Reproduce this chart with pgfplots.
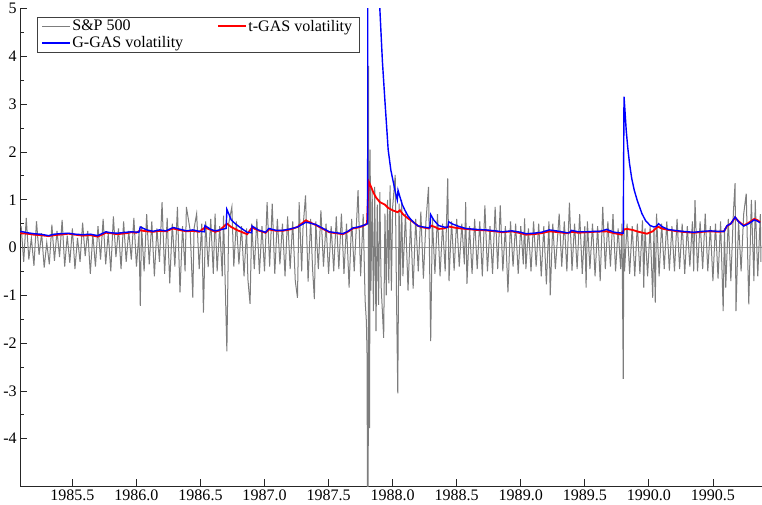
\documentclass[border=0pt]{standalone}
\usepackage{fontspec}
\setmainfont{Liberation Serif}
\usepackage{pgfplots}
\pgfplotsset{compat=1.18}
\definecolor{spgrey}{RGB}{125,125,125}
\begin{document}
\begin{tikzpicture}
\begin{axis}[
  scale only axis, width=737bp, height=475bp,
  xmin=1985.093, xmax=1990.88, ymin=-5, ymax=5,
  axis x line*=bottom, axis y line*=left,
  axis line style={black!85, line width=0.8bp, -},
  xtick={1985.5,1986,...,1990.5}, minor x tick num=4,
  ytick={-4,...,5}, minor y tick num=1,
  tick align=inside,
  major tick length=7bp, minor tick length=4bp,
  tick style={black!85, line width=0.8bp},
  xticklabel style={/pgf/number format/.cd, fixed, fixed zerofill, precision=1, 1000 sep={}},
  /pgf/number format/assume math mode=true,
  tick label style={font=\fontsize{16}{19}\selectfont},
  extra y ticks={0}, extra y tick labels={},
  extra y tick style={grid=major, major grid style={gray!80, line width=0.8bp}},
  legend style={at={(0.022,0.983)}, anchor=north west, draw=black!75,
    font=\fontsize{16}{19}\selectfont, legend columns=2,
    /tikz/every even column/.append style={column sep=32bp},
    inner xsep=5bp, inner ysep=1bp},
  legend cell align=left,
  legend image code/.code={\draw[#1] (0bp,0bp) -- (27bp,0bp);},
]
% S&P 500 returns (scaled)
\addplot[spgrey, line width=1.0bp] coordinates {
(1985.10,0.45)(1985.12,-0.30)(1985.14,0.62)(1985.16,-0.25)(1985.18,0.20)(1985.20,-0.38)(1985.22,0.55)(1985.24,-0.15)(1985.26,0.30)(1985.28,-0.42)(1985.30,0.10)(1985.32,-0.35)(1985.34,0.48)(1985.36,-0.28)(1985.38,0.35)(1985.40,-0.20)(1985.42,0.58)(1985.44,-0.40)(1985.46,0.25)(1985.48,-0.32)(1985.50,0.40)
(1985.52,-0.45)(1985.54,0.20)(1985.56,-0.30)(1985.58,0.52)(1985.60,-0.18)(1985.62,0.35)(1985.64,-0.55)(1985.66,0.28)(1985.68,-0.40)(1985.70,0.45)(1985.72,-0.25)(1985.74,0.60)(1985.76,-0.35)(1985.78,0.30)(1985.80,-0.50)(1985.82,0.65)(1985.84,-0.20)(1985.86,0.40)(1985.88,-0.45)(1985.90,0.55)(1985.92,-0.30)(1985.94,0.35)(1985.96,-0.25)(1985.98,0.62)(1986.00,-0.40)(1986.02,0.30)(1986.03,-1.22)(1986.04,0.45)
(1986.06,-0.50)(1986.08,0.70)(1986.10,-0.35)(1986.12,0.55)(1986.14,-0.60)(1986.16,0.40)(1986.18,-0.30)(1986.20,0.95)(1986.22,-0.55)(1986.24,0.62)(1986.26,-0.75)(1986.28,0.50)(1986.30,-0.40)(1986.32,0.85)(1986.34,-0.94)(1986.36,0.45)(1986.38,-0.50)(1986.39,0.85)(1986.42,0.35)(1986.44,-1.05)(1986.45,0.40)(1986.47,0.71)(1986.49,-0.45)(1986.51,0.50)(1986.523,-1.36)(1986.54,0.55)(1986.56,-0.41)(1986.58,0.60)(1986.60,-0.55)(1986.614,0.71)(1986.63,-0.50)(1986.65,0.45)(1986.67,-0.60)(1986.68,0.67)(1986.706,-2.17)(1986.72,0.50)(1986.745,0.85)(1986.76,-0.40)
(1986.78,0.55)(1986.80,-0.35)(1986.82,0.45)(1986.84,-0.60)(1986.86,0.40)(1986.87,-0.66)(1986.887,-1.18)(1986.90,0.50)(1986.92,-0.45)(1986.94,0.60)(1986.96,-0.55)(1986.98,0.45)(1987.00,-0.50)(1987.02,0.95)(1987.04,-0.40)(1987.06,0.92)(1987.08,-0.55)(1987.10,0.60)(1987.12,-0.35)(1987.14,0.50)(1987.16,-0.60)(1987.18,0.65)(1987.20,-0.45)(1987.22,0.55)(1987.24,-0.70)(1987.257,-1.05)(1987.27,0.95)(1987.29,-0.50)(1987.30,0.40)(1987.32,1.09)(1987.34,-0.71)(1987.36,0.60)(1987.375,-0.45)(1987.389,-1.08)(1987.40,0.55)(1987.42,-0.45)(1987.44,0.78)(1987.46,-0.40)(1987.48,0.50)(1987.50,-0.55)(1987.52,0.45)(1987.54,-0.50)(1987.56,0.65)(1987.58,-0.45)(1987.60,0.71)(1987.62,-0.55)(1987.64,0.50)(1987.66,-0.84)(1987.68,0.60)(1987.70,-0.50)(1987.73,1.20)(1987.75,-0.60)(1987.77,0.70)(1987.785,-1.10)(1987.795,-1.55)(1987.80,-2.23)(1987.808,-9.0)(1987.812,3.80)(1987.816,-1.80)(1987.820,-3.78)(1987.824,2.05)(1987.83,-0.90)(1987.84,1.20)(1987.85,-1.33)(1987.86,1.27)(1987.87,-1.75)(1987.88,0.90)(1987.89,-1.20)(1987.90,1.16)(1987.91,-0.80)(1987.93,-1.89)(1987.94,0.71)(1987.95,-1.00)(1987.96,1.00)(1987.97,-0.75)(1987.98,1.30)(1987.99,-0.90)(1988.00,0.85)(1988.02,1.52)(1988.03,-1.00)(1988.04,-3.05)(1988.05,0.92)(1988.06,-0.80)(1988.07,1.00)(1988.08,-0.60)(1988.10,0.71)(1988.12,-0.90)(1988.14,0.57)(1988.16,-0.86)(1988.18,0.60)(1988.20,-0.50)(1988.22,0.75)(1988.24,-0.65)(1988.26,0.55)(1988.28,1.27)(1988.297,-1.96)(1988.31,0.60)(1988.33,-0.55)(1988.35,0.70)(1988.37,-0.60)(1988.39,0.50)(1988.41,-0.50)(1988.43,1.45)(1988.44,-0.70)(1988.46,0.55)(1988.48,-0.48)(1988.50,0.60)
(1988.52,-0.40)(1988.54,0.50)(1988.56,-0.35)(1988.57,0.95)(1988.58,-0.76)(1988.60,0.45)(1988.62,-0.55)(1988.64,0.60)(1988.66,-0.45)(1988.68,0.55)(1988.70,-0.60)(1988.72,0.88)(1988.74,-0.50)(1988.76,0.45)(1988.78,-0.55)(1988.80,0.85)(1988.82,-0.45)(1988.84,0.88)(1988.86,-0.50)(1988.88,0.45)(1988.90,-0.94)(1988.92,0.55)(1988.94,-0.40)(1988.96,0.50)(1988.98,-0.55)(1989.00,0.45)(1989.02,-0.35)(1989.03,0.61)(1989.04,-0.45)(1989.06,0.40)(1989.08,-0.50)(1989.10,0.55)(1989.12,-0.40)(1989.14,0.50)(1989.16,-0.60)(1989.18,0.45)(1989.20,-0.77)(1989.22,0.55)(1989.23,-1.00)(1989.25,0.50)(1989.27,-0.45)(1989.30,0.71)(1989.32,-0.40)(1989.34,0.55)(1989.36,-0.50)(1989.38,0.94)(1989.40,-0.48)(1989.42,0.50)(1989.44,-0.45)(1989.46,0.70)(1989.48,-0.55)(1989.50,0.45)(1989.51,-0.84)(1989.52,0.55)(1989.54,-0.45)(1989.56,0.50)(1989.58,-0.60)(1989.60,0.45)(1989.62,-0.70)(1989.64,0.85)(1989.66,-0.45)(1989.68,0.55)(1989.70,-0.40)(1989.72,0.70)(1989.74,-0.50)(1989.76,0.40)(1989.78,-0.45)(1989.79,0.50)(1989.80,-2.75)(1989.805,0.57)
(1989.81,-0.50)(1989.83,0.50)(1989.85,-0.55)(1989.87,0.45)(1989.89,-0.60)(1989.91,0.50)(1989.93,-0.55)(1989.95,0.57)(1989.96,-0.84)(1989.97,0.40)(1989.99,-0.60)(1990.01,0.45)(1990.03,-1.05)(1990.04,0.40)(1990.05,-1.15)(1990.06,0.71)(1990.08,-0.60)(1990.10,0.50)(1990.12,-0.45)(1990.14,0.55)(1990.16,-0.48)(1990.18,0.45)(1990.20,-0.50)(1990.22,0.60)(1990.24,-0.45)(1990.26,0.50)(1990.28,-0.55)(1990.30,0.45)(1990.32,-0.40)(1990.34,0.55)(1990.35,-0.50)(1990.36,0.99)(1990.38,-0.50)(1990.40,0.55)(1990.42,-0.45)(1990.44,0.71)(1990.46,-0.50)(1990.48,0.45)(1990.50,-0.70)(1990.52,0.50)(1990.54,-0.65)(1990.56,0.55)(1990.58,-1.33)(1990.59,0.40)(1990.60,-0.84)(1990.62,0.60)(1990.64,-0.70)(1990.66,0.75)(1990.673,1.35)(1990.68,-1.33)(1990.70,0.55)(1990.72,-0.50)(1990.74,0.70)(1990.76,1.13)(1990.78,-1.19)(1990.80,1.00)(1990.82,-0.70)(1990.83,0.99)(1990.85,-0.60)(1990.87,0.70)(1990.875,-0.30)
};
\addlegendentry{S\&P 500}
% t-GAS volatility
\addplot[red, line width=1.8bp] coordinates {
(1985.093,0.30)(1985.15,0.29)(1985.20,0.27)(1985.25,0.26)(1985.314,0.24)(1985.36,0.26)(1985.40,0.27)(1985.471,0.29)(1985.52,0.27)(1985.58,0.25)(1985.64,0.26)(1985.697,0.23)(1985.73,0.27)(1985.762,0.31)(1985.80,0.30)(1985.85,0.28)(1985.919,0.30)(1985.96,0.32)(1986.00,0.31)(1986.03,0.36)(1986.08,0.34)(1986.13,0.33)(1986.18,0.35)(1986.23,0.34)(1986.287,0.40)(1986.33,0.37)(1986.391,0.34)(1986.44,0.35)(1986.49,0.33)(1986.535,0.42)(1986.58,0.37)(1986.614,0.33)(1986.65,0.36)(1986.706,0.50)(1986.74,0.43)(1986.79,0.36)(1986.864,0.28)(1986.903,0.42)(1986.95,0.36)(1987.008,0.31)(1987.034,0.38)(1987.09,0.35)(1987.139,0.35)(1987.20,0.38)(1987.257,0.43)(1987.322,0.57)(1987.36,0.52)(1987.401,0.47)(1987.45,0.40)(1987.506,0.32)(1987.56,0.30)(1987.611,0.28)(1987.65,0.33)(1987.69,0.40)(1987.73,0.42)(1987.768,0.45)(1987.80,0.50)(1987.808,1.10)(1987.815,1.37)(1987.83,1.28)(1987.85,1.15)(1987.87,1.05)(1987.90,0.95)(1987.939,0.90)(1987.965,0.83)(1988.00,0.78)(1988.038,0.74)(1988.057,0.78)(1988.08,0.70)(1988.11,0.63)(1988.148,0.56)(1988.20,0.45)(1988.24,0.42)(1988.28,0.40)(1988.301,0.46)(1988.33,0.43)(1988.359,0.39)(1988.40,0.40)(1988.437,0.44)(1988.50,0.41)(1988.569,0.39)(1988.65,0.37)(1988.726,0.36)(1988.80,0.34)(1988.857,0.32)(1988.93,0.34)(1989.00,0.30)(1989.04,0.27)(1989.10,0.28)(1989.16,0.30)(1989.224,0.34)(1989.30,0.32)(1989.36,0.30)(1989.395,0.33)(1989.45,0.31)(1989.513,0.32)(1989.58,0.33)(1989.67,0.34)(1989.73,0.30)(1989.788,0.27)(1989.806,0.38)(1989.83,0.39)(1989.87,0.37)(1989.92,0.33)(1989.985,0.29)(1990.03,0.34)(1990.07,0.44)(1990.10,0.40)(1990.15,0.37)(1990.20,0.35)(1990.26,0.33)(1990.351,0.31)(1990.42,0.33)(1990.48,0.34)(1990.54,0.33)(1990.587,0.34)(1990.61,0.45)(1990.64,0.50)(1990.673,0.63)(1990.70,0.55)(1990.74,0.46)(1990.78,0.52)(1990.823,0.60)(1990.85,0.57)(1990.868,0.53)
};
\addlegendentry{t-GAS volatility}
% G-GAS volatility
\addplot[blue, line width=1.4bp] coordinates {
(1985.093,0.34)(1985.15,0.31)(1985.20,0.29)(1985.25,0.28)(1985.314,0.25)(1985.36,0.28)(1985.40,0.29)(1985.471,0.30)(1985.52,0.28)(1985.58,0.27)(1985.64,0.28)(1985.697,0.25)(1985.73,0.29)(1985.762,0.33)(1985.80,0.31)(1985.85,0.30)(1985.919,0.32)(1985.96,0.33)(1986.02,0.32)(1986.03,0.43)(1986.08,0.37)(1986.13,0.34)(1986.18,0.37)(1986.23,0.35)(1986.287,0.42)(1986.33,0.39)(1986.391,0.35)(1986.44,0.37)(1986.49,0.34)(1986.53,0.33)(1986.535,0.46)(1986.58,0.38)(1986.614,0.35)(1986.65,0.37)(1986.70,0.40)(1986.706,0.80)(1986.74,0.58)(1986.771,0.50)(1986.81,0.42)(1986.864,0.32)(1986.90,0.31)(1986.903,0.45)(1986.95,0.37)(1987.008,0.32)(1987.034,0.40)(1987.09,0.36)(1987.139,0.36)(1987.20,0.39)(1987.257,0.43)(1987.322,0.53)(1987.36,0.51)(1987.401,0.48)(1987.45,0.41)(1987.506,0.33)(1987.56,0.31)(1987.611,0.29)(1987.65,0.34)(1987.69,0.41)(1987.73,0.43)(1987.768,0.46)(1987.805,0.50)(1987.808,15.0)(1987.83,11.5)(1987.85,8.8)(1987.875,6.6)(1987.90,5.0)(1987.92,3.9)(1987.939,3.1)(1987.965,2.05)(1987.986,1.62)(1988.018,1.20)(1988.036,1.00)(1988.042,1.20)(1988.057,1.06)(1988.075,0.90)(1988.096,0.78)(1988.12,0.66)(1988.148,0.57)(1988.175,0.50)(1988.201,0.45)(1988.24,0.43)(1988.29,0.41)(1988.297,0.69)(1988.32,0.58)(1988.359,0.46)(1988.40,0.43)(1988.43,0.42)(1988.437,0.54)(1988.47,0.49)(1988.52,0.44)(1988.569,0.40)(1988.65,0.38)(1988.726,0.37)(1988.80,0.35)(1988.857,0.33)(1988.93,0.35)(1989.00,0.32)(1989.04,0.29)(1989.10,0.30)(1989.16,0.32)(1989.224,0.37)(1989.30,0.34)(1989.36,0.31)(1989.38,0.31)(1989.395,0.36)(1989.45,0.33)(1989.513,0.33)(1989.58,0.34)(1989.62,0.34)(1989.67,0.38)(1989.73,0.32)(1989.80,0.30)(1989.806,3.16)(1989.815,2.80)(1989.823,2.46)(1989.835,2.10)(1989.849,1.76)(1989.866,1.45)(1989.886,1.20)(1989.91,0.98)(1989.946,0.71)(1989.975,0.56)(1990.011,0.46)(1990.04,0.43)(1990.06,0.45)(1990.076,0.50)(1990.10,0.44)(1990.15,0.38)(1990.20,0.36)(1990.26,0.34)(1990.351,0.32)(1990.42,0.34)(1990.48,0.35)(1990.54,0.34)(1990.587,0.34)(1990.61,0.46)(1990.64,0.50)(1990.673,0.64)(1990.70,0.54)(1990.74,0.45)(1990.78,0.50)(1990.823,0.58)(1990.85,0.55)(1990.868,0.52)
};
\addlegendentry{G-GAS volatility}
\end{axis}
\end{tikzpicture}
\end{document}
